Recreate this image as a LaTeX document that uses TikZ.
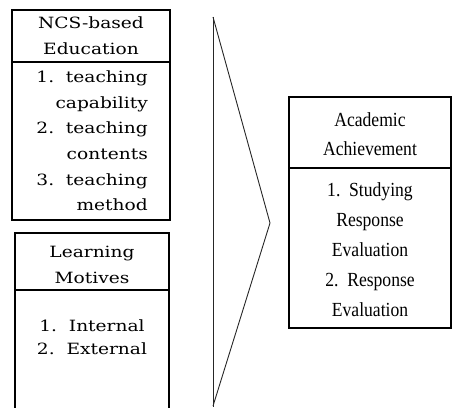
\documentclass[tikz,border=0pt]{standalone}
\usepackage{fontspec}
\setmainfont[FakeStretch=0.88]{Liberation Serif}
\newfontfamily\slabfont[FakeStretch=1.2]{DejaVu Serif}

\begin{document}
\begin{tikzpicture}[x=1pt,y=-1pt,
		box/.style={draw=black,line width=1.3pt},
		arrowline/.style={draw=black!85,line width=0.9pt,line join=miter},
		lefttext/.style={font=\slabfont\fontsize{15.5}{25.6}\selectfont,inner sep=0pt},
		righttext/.style={font=\fontsize{20}{29}\selectfont,inner sep=0pt,align=center}]
		\useasboundingbox (0,0) rectangle (452,407);
		\draw[box] (12,10) rectangle (170,220);
		\draw[box] (12,62) -- (170,62);
		\draw[box] (15,410) -- (15,233) -- (169,233) -- (169,410);
		\draw[box] (15,290) -- (169,290);
		\draw[box] (289,97) rectangle (451,328);
		\draw[box] (289,168) -- (451,168);
		\coordinate (top) at (213,17);
		\coordinate (tip) at (270,223);
		\coordinate (foot) at (213,406);
		\draw[arrowline] (top) -- (tip) -- (foot);
		\draw[arrowline] (top) -- (213,407);
		\node[lefttext,align=center] (ncs) at (91,36) {NCS-based\\Education};
		\node[lefttext,align=right,anchor=east] (edu) at (148,141) {1.\ \ teaching\\capability\\2.\ \ teaching\\contents\\3.\ \ teaching\\method};
		\node[lefttext,align=center] (mot) at (92,265) {Learning\\Motives};
		\node[lefttext,align=center,font=\slabfont\fontsize{15.5}{23.5}\selectfont] (motlist) at (92,337) {1.\ \ Internal\\2.\ \ External};
		\node[righttext] (acad) at (370,134.5) {Academic\\Achievement};
		\node[righttext,font=\fontsize{20}{30}\selectfont] (acadlist) at (370,250) {1.\ \ Studying\\Response\\Evaluation\\2.\ \ Response\\Evaluation};
	\end{tikzpicture}
\end{document}
